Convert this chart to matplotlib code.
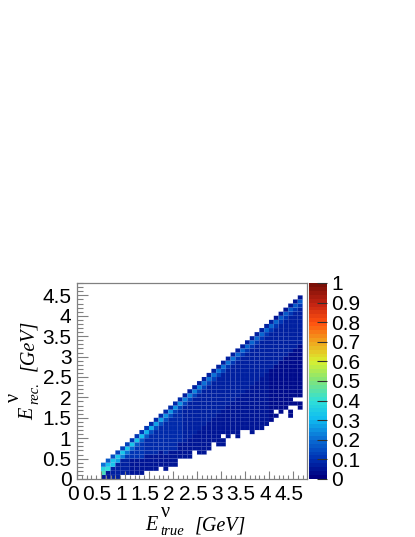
import matplotlib
matplotlib.use("Agg")
import matplotlib.pyplot as plt
import numpy as np
from matplotlib.colors import LinearSegmentedColormap
from matplotlib.cm import ScalarMappable
from matplotlib.colors import Normalize
from matplotlib.ticker import MultipleLocator
from matplotlib.transforms import ScaledTranslation

plt.rcParams["font.family"] = ["Liberation Sans", "DejaVu Sans"]

W, H = 415, 537

# true-energy bin index (x = idx * 0.1 GeV), one entry per column, 0.5 .. 4.6
col_idx = [5, 6, 7, 8, 9, 10, 11, 12, 13, 14, 15, 16, 17, 18, 19, 20, 21, 22, 23, 24, 25,
           26, 27, 28, 29, 30, 31, 32, 33, 34, 35, 36, 37, 38, 39, 40, 41, 42, 43, 44, 45, 46]
# highest and lowest filled reco bin in each column
top_row = [3, 4, 5, 6, 7, 8, 9, 10, 11, 12, 13, 14, 15, 16, 17, 18, 19, 20, 21, 22, 23,
           24, 25, 26, 27, 28, 29, 30, 31, 32, 33, 34, 35, 36, 37, 38, 39, 40, 41, 42, 43, 44]
floor_row = [0, 0, 0, 0, 1, 1, 1, 1, 1, 2, 2, 2, 3, 2, 3, 3, 5, 5, 5, 7, 6,
             6, 7, 9, 8, 8, 10, 11, 10, 12, 12, 11, 12, 12, 13, 14, 15, 16, 17, 15, 18, 17]
# empty bins inside the filled region (column idx, reco row)
hole_cols = [30, 41, 44, 45, 46]
hole_rows = [10, 16, 17, 19, 19]

# fractions per column: cell on the edge, the bright ridge, cell under it, rest of the band
edge_val = [0.20, 0.16, 0.14, 0.13, 0.12, 0.12, 0.11, 0.11, 0.10, 0.10, 0.09, 0.09, 0.09, 0.08,
            0.08, 0.08, 0.08, 0.07, 0.07, 0.07, 0.07, 0.07, 0.07, 0.07, 0.06, 0.06, 0.06, 0.06,
            0.06, 0.06, 0.06, 0.06, 0.06, 0.06, 0.06, 0.06, 0.05, 0.05, 0.05, 0.05, 0.05, 0.05]
ridge_val = [0.36, 0.31, 0.32, 0.33, 0.33, 0.33, 0.33, 0.32, 0.30, 0.29, 0.28, 0.27, 0.26, 0.25,
             0.25, 0.24, 0.24, 0.23, 0.23, 0.22, 0.22, 0.21, 0.21, 0.21, 0.20, 0.20, 0.20, 0.20,
             0.19, 0.19, 0.19, 0.19, 0.18, 0.18, 0.18, 0.18, 0.18, 0.17, 0.17, 0.17, 0.17, 0.17]
under_val = [0.43, 0.38, 0.33, 0.26, 0.22, 0.20, 0.18, 0.17, 0.16, 0.16, 0.15, 0.15, 0.14, 0.14,
             0.14, 0.13, 0.13, 0.13, 0.13, 0.12, 0.12, 0.12, 0.12, 0.12, 0.12, 0.12, 0.11, 0.11,
             0.11, 0.11, 0.11, 0.11, 0.11, 0.10, 0.10, 0.10, 0.10, 0.10, 0.10, 0.10, 0.10, 0.10]
band_val = [0.12, 0.14, 0.14, 0.13, 0.12, 0.11, 0.11, 0.10, 0.10, 0.09, 0.09, 0.09, 0.08, 0.08,
            0.08, 0.08, 0.08, 0.07, 0.07, 0.07, 0.07, 0.07, 0.07, 0.07, 0.07, 0.07, 0.07, 0.06,
            0.06, 0.06, 0.06, 0.06, 0.06, 0.06, 0.06, 0.06, 0.06, 0.06, 0.06, 0.06, 0.06, 0.06]
tail_val = [0.04, 0.05, 0.06, 0.06, 0.06, 0.06, 0.05, 0.05, 0.05, 0.05, 0.05, 0.05, 0.05, 0.05,
            0.05, 0.05, 0.05, 0.04, 0.04, 0.04, 0.04, 0.04, 0.04, 0.04, 0.04, 0.04, 0.04, 0.04,
            0.04, 0.04, 0.04, 0.04, 0.04, 0.04, 0.04, 0.03, 0.03, 0.03, 0.03, 0.03, 0.03, 0.03]

x_labels = ["0", "0.5", "1", "1.5", "2", "2.5", "3", "3.5", "4", "4.5"]
y_labels = ["0", "0.5", "1", "1.5", "2", "2.5", "3", "3.5", "4", "4.5"]
z_labels = ["0", "0.1", "0.2", "0.3", "0.4", "0.5", "0.6", "0.7", "0.8", "0.9", "1"]

palette = ["#000080", "#0034b4", "#0a6ed4", "#10bcf0", "#30e0d8", "#80e47a",
           "#d8f030", "#f0a81e", "#ff5210", "#c42412", "#7a1008"]
cmap = LinearSegmentedColormap.from_list("rainbow_root", palette, N=50)
norm = Normalize(0, 1)

grid = np.full((48, 48), np.nan)
for k, c in enumerate(col_idx):
    t, f = top_row[k], floor_row[k]
    for r in range(f, t + 1):
        d = t - r
        if d == 0:
            v = edge_val[k]
        elif d == 1:
            v = ridge_val[k]
        elif d == 2:
            v = under_val[k]
        elif r > f + 3 and d < 12:
            v = band_val[k]
        else:
            v = tail_val[k]
        grid[r, c] = v
for c, r in zip(hole_cols, hole_rows):
    grid[r, c] = np.nan
edges = np.arange(49) * 0.1


def fig_box(x0, y0, x1, y1):
    return [x0 / W, 1 - y1 / H, (x1 - x0) / W, (y1 - y0) / H]


fig = plt.figure(figsize=(W / 100, H / 100), dpi=100, facecolor="white")
ax = fig.add_axes(fig_box(77, 283, 307, 479))
# pcolor leaves the empty bins out, so they get no cell outline
ax.pcolor(edges, edges, np.ma.masked_invalid(grid), cmap=cmap, norm=norm,
          edgecolors=(0.3, 0.4, 0.85, 0.14), linewidth=0.3)
ax.set_xlim(0, 230 / 48)
ax.set_ylim(0, 196 / 40.8)
for s in ax.spines.values():
    s.set_color("#808080")
    s.set_linewidth(0.9)

ax.set_xticks(np.arange(len(x_labels)) * 0.5, x_labels)
ax.set_yticks(np.arange(len(y_labels)) * 0.5, y_labels)
ax.xaxis.set_minor_locator(MultipleLocator(0.1))
ax.yaxis.set_minor_locator(MultipleLocator(0.1))
ax.tick_params(axis="x", which="major", direction="in", length=6, width=0.8, color="#808080",
               labelsize=15, pad=4)
ax.tick_params(axis="x", which="minor", direction="in", length=3, width=0.8, color="#808080")
ax.tick_params(axis="y", which="major", direction="in", length=8, width=0.8, color="#808080",
               labelsize=15, pad=4)
ax.tick_params(axis="y", which="minor", direction="in", length=4, width=0.8, color="#808080")
shift = ScaledTranslation(-4 / 100, 0, fig.dpi_scale_trans)
for lab in ax.get_xticklabels():
    lab.set_transform(lab.get_transform() + shift)

cax = fig.add_axes(fig_box(309, 283, 327, 479))
cb = fig.colorbar(ScalarMappable(norm=norm, cmap=cmap), cax=cax)
cb.outline.set_visible(False)
cb.set_ticks(np.arange(len(z_labels)) / 10, labels=z_labels)
cax.tick_params(axis="y", direction="in", length=7, width=0.8, color="#303030", labelsize=15, pad=3)
cax.minorticks_off()

# axis titles are pieced together so the sub/superscripts sit where they do in the original
serif = ["Liberation Serif", "DejaVu Serif"]


def put(x, y, s, size, style="italic", rot=0, ha="left"):
    fig.text(x / W, 1 - y / H, s, fontsize=size, family=serif, style=style, rotation=rot,
             ha=ha, va="baseline", rotation_mode="anchor", color="black")


put(145, 530, "E", 14.5)
put(161, 517, "ν", 14.5, style="normal")
put(160, 535, "true", 10.5)
put(195, 530, "[GeV]", 14.5)

put(33, 420, "E", 14.5, rot=90)
put(19, 402, "ν", 14.5, style="normal", rot=90)
put(38, 404, "rec.", 10.5, rot=90)
put(33, 371, "[GeV]", 14.5, rot=90)

fig.savefig("out.png", dpi=100, facecolor="white")
